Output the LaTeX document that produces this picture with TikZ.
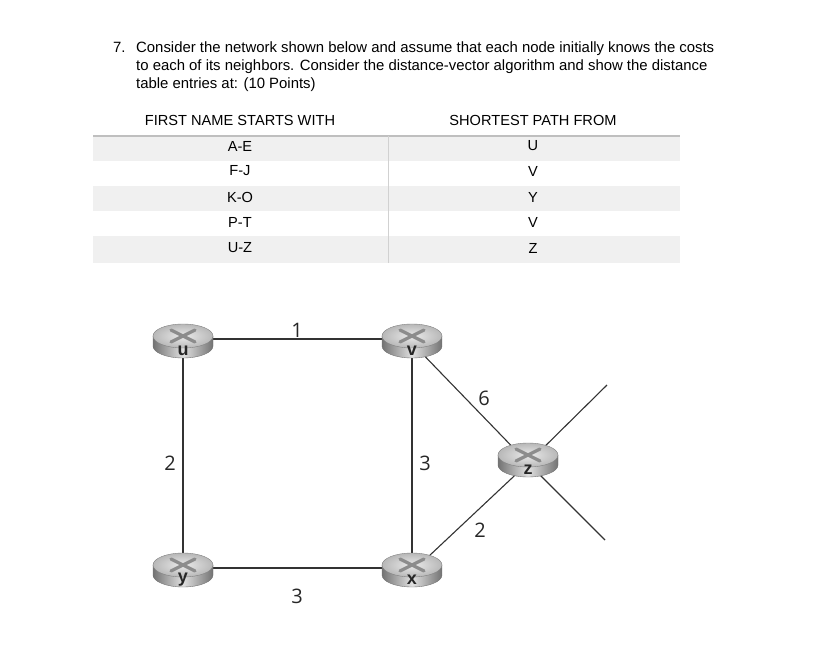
\documentclass[tikz,border=0pt]{standalone}
\usepackage{fontspec}
\setmainfont{Liberation Sans}
\newfontfamily\lblfont{Open Sans}
\begin{document}
\begin{tikzpicture}[x=1pt,y=-1pt,
  txt/.style={font=\fontsize{14.9}{17}\selectfont,anchor=base west,inner sep=0},
  cell/.style={font=\fontsize{14.6}{16}\selectfont,inner sep=0},
  lbl/.style={font=\lblfont\fontsize{20}{22}\selectfont,text=black!85,inner sep=0},
  link/.style={draw=black!80,line width=1.1pt}]
\useasboundingbox (0,0) rectangle (823,651);
% question
\node[txt] (q1) at (113,52) {7.};
\node[txt] (q2) at (136,52) {Consider the network shown below and assume that each node initially knows the costs};
\node[txt] (q3) at (136,70) {to each of its neighbors. Consider the distance-vector algorithm and show the distance};
\node[txt] (q4) at (136,88) {table entries at: (10 Points)};
% table
\fill[black!6] (93,136) rectangle (680,161);
\fill[black!6] (93,186) rectangle (680,211);
\fill[black!6] (93,236) rectangle (680,263);
\draw[black!25,line width=1.2pt] (93,136) -- (680,136);
\draw[black!18,line width=1pt] (388,136) -- (388,263);
\node[cell] (h1) at (240,120) {FIRST NAME STARTS WITH};
\node[cell] (h2) at (533,120) {SHORTEST PATH FROM};
\foreach \a/\b/\y in {A-E/U/146,F-J/V/171,K-O/Y/197,P-T/V/222,U-Z/Z/248}{
  \node[cell] at (240,\y) {\a};
  \node[cell] at (533,\y) {\b};
}
% router
\newcommand{\router}[3]{%
  \begin{scope}[shift={(#1,#2)}]
    \shade[left color=black!55,right color=black!55,middle color=black!12] (-30,0) -- (-30,10) arc[start angle=180,end angle=0,x radius=30,y radius=12] -- (30,0) -- cycle;
    \draw[black!55,line width=0.4pt] (-30,0) -- (-30,10) arc[start angle=180,end angle=0,x radius=30,y radius=12] -- (30,0);
    \shade[inner color=black!8,outer color=black!28] (0,0) ellipse[x radius=30,y radius=12];
    \draw[black!50,line width=0.4pt] (0,0) ellipse[x radius=30,y radius=12];
    \draw[black!45,line width=3.2pt,line cap=round] (-12,-6) -- (12,6) (-12,6) -- (12,-6);
    \node[font=\bfseries\fontsize{18}{18}\selectfont,text=black!85,inner sep=0] at (0,15) {#3};
  \end{scope}}
% coordinates
\coordinate (u) at (183,343);
\coordinate (v) at (412,343);
\coordinate (z) at (528,463);
\coordinate (y) at (183,572);
\coordinate (x) at (412,572);
\coordinate (z1) at (607,385);
\coordinate (z2) at (605,540);
% links
\draw[link] ([yshift=4]u) -- ([yshift=4]v);
\draw[link] ([yshift=4]y) -- ([yshift=4]x);
\draw[link] (u) -- (y);
\draw[link] (v) -- (x);
\draw[link] (v) -- (z);
\draw[link] (x) -- (z);
\draw[link] (z) -- (z1);
\draw[link] (z) -- (z2);
% routers
\router{183}{336}{u}
\router{412}{336}{v}
\router{528}{455}{z}
\router{183}{565}{y}
\router{412}{565}{x}
% labels
\node[lbl] (l1) at (297,330) {1};
\node[lbl] (l2) at (170,463) {2};
\node[lbl] (l3) at (425,463) {3};
\node[lbl] (l6) at (484,398) {6};
\node[lbl] (l7) at (480,530) {2};
\node[lbl] (l8) at (297,596) {3};
\end{tikzpicture}
\end{document}
